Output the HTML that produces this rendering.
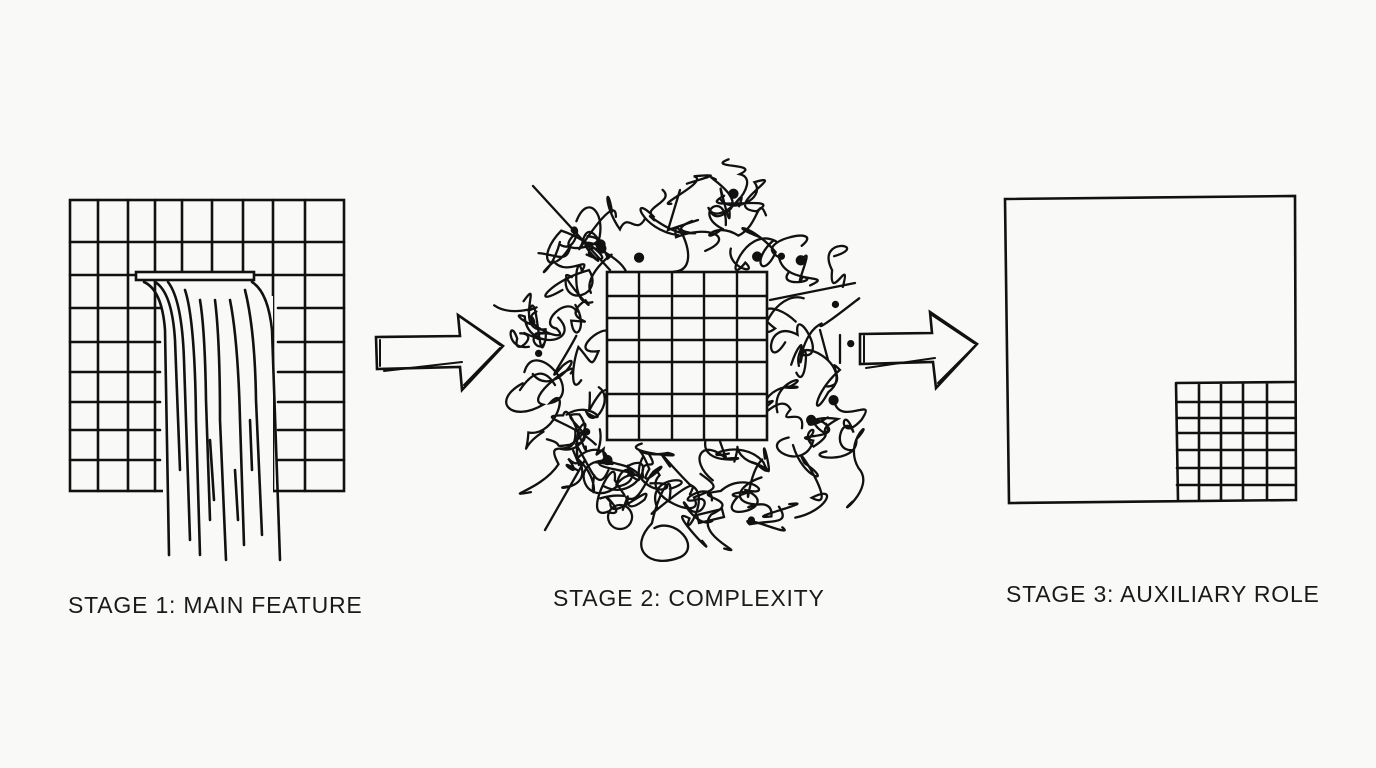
<!DOCTYPE html>
<html><head><meta charset="utf-8">
<style>
html,body{margin:0;padding:0;background:#f9f9f8;}
svg{display:block}
text{font-family:"Liberation Sans",sans-serif;font-size:23px;fill:#1a1a1a;letter-spacing:0.8px}
</style></head>
<body>
<svg id="s" width="1376" height="768" viewBox="0 0 1376 768" xmlns="http://www.w3.org/2000/svg">
<rect width="1376" height="768" fill="#f9f9f8"/>
<g id="scrib" fill="none" stroke="#111" stroke-width="2.3" stroke-linecap="round"></g>
<g fill="none" stroke="#111" stroke-width="2.6" stroke-linecap="round">
<rect x="70" y="200" width="274" height="291"/>
<path d="M98 200V491M128 200V491M155 200V491M182 200V275M212 200V275M243 200V275M273 200V491M305 200V491"/>
<path d="M70 242H344M70 275H344M70 308H160M278 308H344M70 342H160M278 342H344M70 372H160M278 372H344M70 402H160M278 402H344M70 430H160M278 430H344M70 460H160M278 460H344"/>
<rect x="136" y="272" width="118" height="8" fill="#f9f9f8"/>
<rect x="163" y="296" width="110" height="262" fill="#f9f9f8" stroke="none"/>
<path d="M144 282 Q162 290 165 330 L169 555"/>
<path d="M252 282 Q268 292 272 330 L280 560"/>
<path d="M155 282 Q172 292 175 340 L180 470M168 282 Q182 300 184 360 L190 540M185 290 Q195 320 196 420 L200 555M200 300 Q205 330 206 400 L210 520M215 300 Q220 340 220 420 L226 560M230 300 Q238 340 240 420 L244 545M245 290 Q255 330 256 400 L262 535M210 440 L214 500M235 470 L238 520M250 420 L252 470"/>
<path d="M376 337 L460 336 L458 315 L503 346 L462 390 L460 367 L377 369 Z"/>
<path d="M380 340 L380 366M384 371 L462 362M464 385 L500 348M462 318 L500 345" stroke-width="2"/>
<path d="M860 334 L932 333 L930 312 L977 344 L936 388 L933 362 L860 364 Z"/>
<path d="M864 336 L864 362M866 368 L935 358M938 383 L974 347M932 315 L974 343" stroke-width="2"/>
<path d="M1005 199 L1295 196 L1296 500 L1009 503 Z"/>
<path d="M1176 383 L1294 382 M1176 383 L1178 500 M1177 402H1294M1177 418H1294M1177 433H1294M1177 450H1294M1177 468H1294M1177 485H1294M1199 383V500M1221 383V500M1243 383V500M1267 383V500"/>
</g>
<rect x="607" y="272" width="160" height="168" fill="#f9f9f8" stroke="#111" stroke-width="2.6"/>
<path d="M639 272V440M672 272V440M704 272V440M737 272V440M607 296H767M607 318H767M607 340H767M607 362H767M607 394H767M607 416H767" stroke="#111" stroke-width="2.4" fill="none"/>
<text x="68" y="613">STAGE 1: MAIN FEATURE</text>
<text x="553" y="606">STAGE 2: COMPLEXITY</text>
<text x="1006" y="602">STAGE 3: AUXILIARY ROLE</text>
</svg>
<script>
(function(){
var seed=23;function r(){seed=(seed*16807)%2147483647;return seed/2147483647;}
var g=document.getElementById('scrib'),d='';
var cx=688,cy=350;
function pt(){for(;;){var a=r()*6.283,rr=Math.sqrt(r());var x=cx+Math.cos(a)*rr*172,y=cy+Math.sin(a)*rr*185;
if(x>600&&x<775&&y>265&&y<447)continue;return [x,y];}}
for(var i=0;i<68;i++){var p=pt();d+='M'+p[0].toFixed(1)+' '+p[1].toFixed(1);
var n=2+Math.floor(r()*2);for(var k=0;k<n;k++){var q=[p[0]+(r()-.5)*70,p[1]+(r()-.5)*70];
var s=18+r()*22,a1=r()*6.283,a2=r()*6.283;
d+=' C'+(p[0]+Math.cos(a1)*s).toFixed(1)+' '+(p[1]+Math.sin(a1)*s).toFixed(1)+' '+(q[0]+Math.cos(a2)*s).toFixed(1)+' '+(q[1]+Math.sin(a2)*s).toFixed(1)+' '+q[0].toFixed(1)+' '+q[1].toFixed(1);p=q;}}
var pa=document.createElementNS('http://www.w3.org/2000/svg','path');pa.setAttribute('d',d);g.appendChild(pa);
for(var j=0;j<16;j++){var c=pt();var e=document.createElementNS('http://www.w3.org/2000/svg','circle');
e.setAttribute('cx',c[0]);e.setAttribute('cy',c[1]);e.setAttribute('r',r()<.5?4:2.5);e.setAttribute('fill','#111');g.appendChild(e);}
var l=document.createElementNS('http://www.w3.org/2000/svg','path');l.setAttribute('d','M533 186 L610 270 M770 300 L855 283 M620 505 a12 12 0 1 0 0.1 0 M697 515 l25 -6 l2 8 l-25 6z M680 190 l-12 40 l30 -10 M820 330 l8 30 M840 335 v28 M585 460 l-40 70 M520 390 q20 -30 35 -5');g.appendChild(l);
})();
</script>
</body></html>
